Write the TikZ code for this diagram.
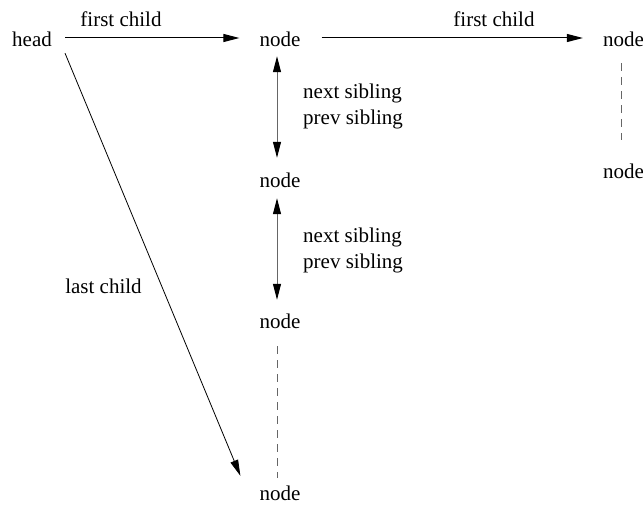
\documentclass[tikz,border=0pt]{standalone}
\usepackage{fontspec}
\setmainfont{Liberation Serif}
\usetikzlibrary{arrows.meta}
\begin{document}
\begin{tikzpicture}[x=1pt,y=-1pt,
  lbl/.style={font=\fontsize{21}{25}\selectfont, inner sep=0pt, text height=18pt, text depth=0pt, anchor=base},
  side/.style={font=\fontsize{21}{25}\selectfont, inner sep=0pt, anchor=base west},
  arr/.style={line width=1pt, -{Triangle[length=16pt,width=8pt]}},
  dbl/.style={line width=1pt, draw=black!60, {Triangle[length=16pt,width=8pt,color=black]}-{Triangle[length=16pt,width=8pt,color=black]}},
  dashline/.style={line width=1pt, draw=black!60, dash pattern=on 8pt off 6pt}
]
\useasboundingbox (0,0) rectangle (643,505);
% nodes
\node[lbl] (head) at (32,47) {head};
\node[lbl] (n1) at (280,47) {node};
\node[lbl] (n2) at (280,188) {node};
\node[lbl] (n3) at (280,329) {node};
\node[lbl] (n4) at (280,500) {node};
\node[lbl] (r1) at (623.5,47) {node};
\node[lbl] (r2) at (623.5,179) {node};
% labels
\node[lbl] (fc1) at (121,27) {first child};
\node[lbl] (fc2) at (494,27) {first child};
\node[side] (ns1) at (303,99) {next sibling};
\node[side] (ps1) at (303,125) {prev sibling};
\node[side] (ns2) at (303,243) {next sibling};
\node[side] (ps2) at (303,269) {prev sibling};
\node[lbl] (lc) at (103.5,294) {last child};
% connectors
\draw[arr, shorten <=13pt, shorten >=20pt] (head.east) -- (n1.west);
\draw[arr, shorten <=21pt, shorten >=20pt] (n1.east) -- (r1.west);
\draw[dbl, shorten <=9pt, shorten >=12pt] ([xshift=-3pt]n1.south) -- ([xshift=-3pt]n2.north);
\draw[dbl, shorten <=10pt, shorten >=11pt] ([xshift=-3pt]n2.south) -- ([xshift=-3pt]n3.north);
\draw[dashline, shorten <=17pt, shorten >=4pt] ([xshift=-3pt]n3.south) -- ([xshift=-3pt]n4.north);
\draw[dashline, shorten <=16pt, shorten >=21pt] ([xshift=-2.5pt]r1.south) -- ([xshift=-2.5pt]r2.north);
\draw[line width=0.8pt, -{Triangle[length=16pt,width=8pt]}] ([shift={(13pt,-6pt)}]head.south east) -- ([shift={(-19pt,6pt)}]n4.north west);
\end{tikzpicture}
\end{document}
